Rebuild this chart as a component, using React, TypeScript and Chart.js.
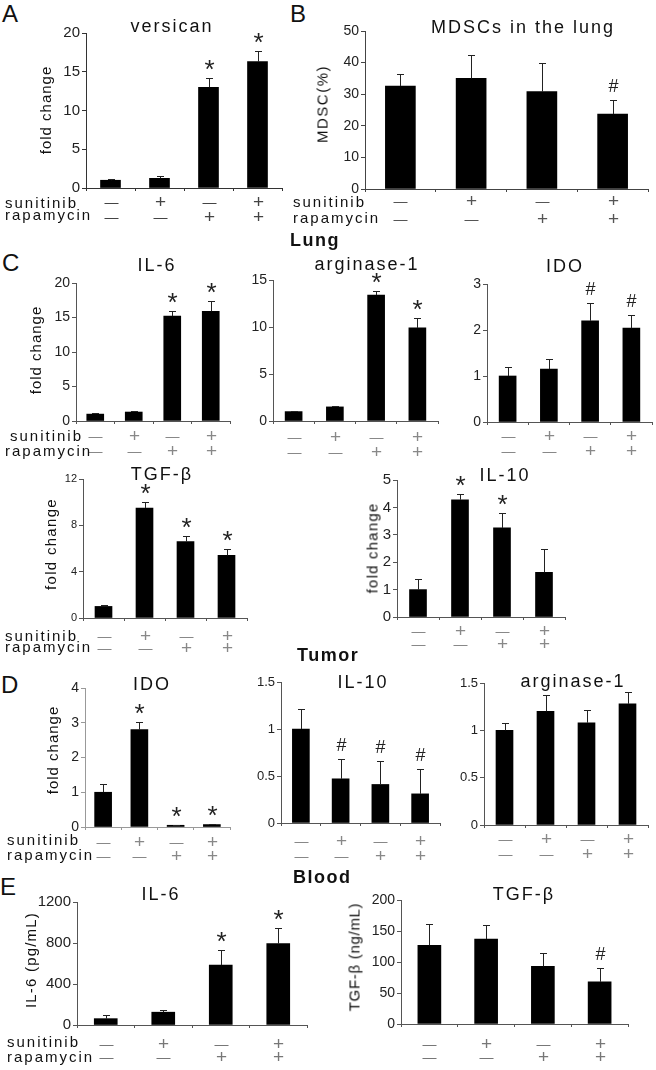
import React, { useEffect, useRef } from "react";
import { Chart, registerables } from "chart.js";

Chart.register(...registerables);

const FONT = "'Liberation Sans', Arial, Helvetica, sans-serif";

// ---------- data ----------
const GROUPS = ["control", "sunitinib", "rapamycin", "sunitinib + rapamycin"];
const SUNITINIB_SIGNS = ["—", "+", "—", "+"];
const RAPAMYCIN_SIGNS = ["—", "—", "+", "+"];

const VERSICAN = [1.0, 1.25, 13.0, 16.3];
const VERSICAN_ERR = [0.1, 0.3, 1.2, 1.4];
const VERSICAN_MARK = ["", "", "*", "*"];

const MDSC = [32.6, 35.0, 30.8, 23.7];
const MDSC_ERR = [3.7, 7.3, 9.2, 4.6];
const MDSC_MARK = ["", "", "", "#"];

const LUNG_IL6 = [1.0, 1.3, 15.2, 15.9];
const LUNG_IL6_ERR = [0.1, 0.1, 0.8, 1.5];
const LUNG_IL6_MARK = ["", "", "*", "*"];

const LUNG_ARG1 = [1.0, 1.5, 13.4, 9.9];
const LUNG_ARG1_ERR = [0.05, 0.1, 0.45, 1.1];
const LUNG_ARG1_MARK = ["", "", "*", "*"];

const LUNG_IDO = [1.0, 1.15, 2.2, 2.04];
const LUNG_IDO_ERR = [0.2, 0.21, 0.38, 0.28];
const LUNG_IDO_MARK = ["", "", "#", "#"];

const LUNG_TGFB = [1.0, 9.5, 6.6, 5.4];
const LUNG_TGFB_ERR = [0.12, 0.55, 0.45, 0.55];
const LUNG_TGFB_MARK = ["", "*", "*", "*"];

const LUNG_IL10 = [1.0, 4.28, 3.25, 1.63];
const LUNG_IL10_ERR = [0.38, 0.22, 0.55, 0.85];
const LUNG_IL10_MARK = ["", "*", "*", ""];

const TUMOR_IDO = [1.0, 2.8, 0.05, 0.07];
const TUMOR_IDO_ERR = [0.25, 0.21, 0.01, 0.01];
const TUMOR_IDO_MARK = ["", "*", "*", "*"];

const TUMOR_IL10 = [1.0, 0.47, 0.41, 0.31];
const TUMOR_IL10_ERR = [0.21, 0.21, 0.25, 0.26];
const TUMOR_IL10_MARK = ["", "#", "#", "#"];

const TUMOR_ARG1 = [1.0, 1.2, 1.08, 1.28];
const TUMOR_ARG1_ERR = [0.08, 0.17, 0.14, 0.12];
const TUMOR_ARG1_MARK = ["", "", "", ""];

const BLOOD_IL6 = [62, 125, 585, 795];
const BLOOD_IL6_ERR = [32, 25, 145, 155];
const BLOOD_IL6_MARK = ["", "", "*", "*"];

const BLOOD_TGFB = [127, 137, 93, 68];
const BLOOD_TGFB_ERR = [35, 22, 22, 23];
const BLOOD_TGFB_MARK = ["", "", "", "#"];

// ---------- layout ----------
const Y_W = 44;
const PAD_TOP = 14;
const PAD_RIGHT = 4;
const X_H = 44;
const CAP = 7;
const MARK_GAP = 15;

type Spec = {
  id: string;
  values: number[];
  errors: number[];
  marks: string[];
  yMax: number;
  yStep: number;
  plot: { left: number; right: number; top: number; bottom: number };
  bar: number;
  tickFont: number;
  rows: [number, number];
  axis: string;
  sign: string;
};

const PANELS: Spec[] = [
  { id: "A", values: VERSICAN, errors: VERSICAN_ERR, marks: VERSICAN_MARK, yMax: 20, yStep: 5,
    plot: { left: 86, right: 282, top: 33, bottom: 188 }, bar: 20, tickFont: 15, rows: [15, 30], axis: "#333", sign: "#444" },
  { id: "B", values: MDSC, errors: MDSC_ERR, marks: MDSC_MARK, yMax: 50, yStep: 10,
    plot: { left: 365, right: 648, top: 31, bottom: 189 }, bar: 30, tickFont: 14, rows: [13, 31], axis: "#444", sign: "#555" },
  { id: "C1", values: LUNG_IL6, errors: LUNG_IL6_ERR, marks: LUNG_IL6_MARK, yMax: 20, yStep: 5,
    plot: { left: 76, right: 230, top: 283, bottom: 421 }, bar: 17, tickFont: 14, rows: [16, 31], axis: "#555", sign: "#888" },
  { id: "C2", values: LUNG_ARG1, errors: LUNG_ARG1_ERR, marks: LUNG_ARG1_MARK, yMax: 15, yStep: 5,
    plot: { left: 273, right: 438, top: 280, bottom: 421 }, bar: 17, tickFont: 14, rows: [17, 32], axis: "#555", sign: "#888" },
  { id: "C3", values: LUNG_IDO, errors: LUNG_IDO_ERR, marks: LUNG_IDO_MARK, yMax: 3, yStep: 1,
    plot: { left: 487, right: 652, top: 284, bottom: 422 }, bar: 17, tickFont: 14, rows: [15, 30], axis: "#555", sign: "#888" },
  { id: "C4", values: LUNG_TGFB, errors: LUNG_TGFB_ERR, marks: LUNG_TGFB_MARK, yMax: 12, yStep: 4,
    plot: { left: 83, right: 247, top: 479, bottom: 618 }, bar: 17, tickFont: 11, rows: [19, 31], axis: "#555", sign: "#888" },
  { id: "C5", values: LUNG_IL10, errors: LUNG_IL10_ERR, marks: LUNG_IL10_MARK, yMax: 5, yStep: 1,
    plot: { left: 397, right: 565, top: 480, bottom: 617 }, bar: 17, tickFont: 15, rows: [15, 28], axis: "#555", sign: "#888" },
  { id: "D1", values: TUMOR_IDO, errors: TUMOR_IDO_ERR, marks: TUMOR_IDO_MARK, yMax: 4, yStep: 1,
    plot: { left: 85, right: 230, top: 688, bottom: 827 }, bar: 17, tickFont: 14, rows: [16, 30], axis: "#999", sign: "#888" },
  { id: "D2", values: TUMOR_IL10, errors: TUMOR_IL10_ERR, marks: TUMOR_IL10_MARK, yMax: 1.5, yStep: 0.5,
    plot: { left: 281, right: 440, top: 682, bottom: 823 }, bar: 17, tickFont: 13, rows: [19, 34], axis: "#555", sign: "#888" },
  { id: "D3", values: TUMOR_ARG1, errors: TUMOR_ARG1_ERR, marks: TUMOR_ARG1_MARK, yMax: 1.5, yStep: 0.5,
    plot: { left: 484, right: 648, top: 683, bottom: 825 }, bar: 17, tickFont: 13, rows: [15, 30], axis: "#555", sign: "#888" },
  { id: "E1", values: BLOOD_IL6, errors: BLOOD_IL6_ERR, marks: BLOOD_IL6_MARK, yMax: 1200, yStep: 400,
    plot: { left: 77, right: 307, top: 902, bottom: 1025 }, bar: 23, tickFont: 15, rows: [20, 33], axis: "#555", sign: "#777" },
  { id: "E2", values: BLOOD_TGFB, errors: BLOOD_TGFB_ERR, marks: BLOOD_TGFB_MARK, yMax: 200, yStep: 50,
    plot: { left: 401, right: 628, top: 900, bottom: 1024 }, bar: 23, tickFont: 14, rows: [21, 34], axis: "#555", sign: "#777" },
];

type TextSpec = { text: string; x: number; y: number; size: number; bold?: boolean; center?: boolean; ls?: number; rotate?: boolean; color?: string };

const TEXTS: TextSpec[] = [
  // panel letters
  { text: "A", x: 2, y: 22, size: 24 },
  { text: "B", x: 290, y: 22, size: 24 },
  { text: "C", x: 2, y: 271, size: 24 },
  { text: "D", x: 1, y: 693, size: 24 },
  { text: "E", x: 0, y: 895, size: 24 },
  // section headers
  { text: "Lung", x: 290, y: 246, size: 18, bold: true, ls: 1.5 },
  { text: "Tumor", x: 297, y: 661, size: 18, bold: true, ls: 1.5 },
  { text: "Blood", x: 293, y: 883, size: 18, bold: true, ls: 1.5 },
  // titles
  { text: "versican", x: 172, y: 32, size: 18, center: true, ls: 2 },
  { text: "MDSCs in the lung", x: 523, y: 33, size: 18, center: true, ls: 2 },
  { text: "IL-6", x: 157, y: 271, size: 18, center: true, ls: 2 },
  { text: "arginase-1", x: 367, y: 270, size: 18, center: true, ls: 2 },
  { text: "IDO", x: 565, y: 272, size: 18, center: true, ls: 2 },
  { text: "TGF-β", x: 162, y: 480, size: 18, center: true, ls: 2 },
  { text: "IL-10", x: 505, y: 481, size: 18, center: true, ls: 2 },
  { text: "IDO", x: 152, y: 690, size: 18, center: true, ls: 2 },
  { text: "IL-10", x: 363, y: 688, size: 18, center: true, ls: 2 },
  { text: "arginase-1", x: 573, y: 687, size: 18, center: true, ls: 2 },
  { text: "IL-6", x: 161, y: 900, size: 18, center: true, ls: 2 },
  { text: "TGF-β", x: 524, y: 900, size: 18, center: true, ls: 2 },
  // y-axis labels (center positions)
  { text: "fold change", x: 45, y: 110, size: 15, rotate: true, ls: 1 },
  { text: "MDSC(%)", x: 322, y: 104, size: 15, rotate: true, ls: 1.5 },
  { text: "fold change", x: 35, y: 350, size: 15, rotate: true, ls: 1 },
  { text: "fold change", x: 50, y: 544, size: 15, rotate: true, ls: 1.3 },
  { text: "fold change", x: 372, y: 548, size: 15, rotate: true, ls: 1.2 },
  { text: "fold change", x: 52, y: 750, size: 15, rotate: true, ls: 1 },
  { text: "IL-6 (pg/mL)", x: 30, y: 960, size: 15, rotate: true, ls: 1.2 },
  { text: "TGF-β (ng/mL)", x: 354, y: 957, size: 15, rotate: true, ls: 0.7 },
  // treatment row labels
  { text: "sunitinib", x: 5, y: 208, size: 15, ls: 2 },
  { text: "rapamycin", x: 5, y: 220, size: 15, ls: 2 },
  { text: "sunitinib", x: 293, y: 207, size: 15, ls: 2 },
  { text: "rapamycin", x: 293, y: 223, size: 15, ls: 2 },
  { text: "sunitinib", x: 10, y: 441, size: 15, ls: 2 },
  { text: "rapamycin", x: 5, y: 456, size: 15, ls: 2 },
  { text: "sunitinib", x: 5, y: 641, size: 15, ls: 2 },
  { text: "rapamycin", x: 5, y: 652, size: 15, ls: 2 },
  { text: "sunitinib", x: 7, y: 845, size: 15, ls: 2 },
  { text: "rapamycin", x: 7, y: 860, size: 15, ls: 2 },
  { text: "sunitinib", x: 7, y: 1047, size: 15, ls: 2 },
  { text: "rapamycin", x: 7, y: 1062, size: 15, ls: 2 },
];

function overlayPlugin(spec: Spec) {
  return {
    id: "overlay" + spec.id,
    afterDatasetsDraw(chart: any) {
      const { ctx, chartArea } = chart;
      const xs = chart.scales.x;
      const ys = chart.scales.y;
      ctx.save();
      spec.values.forEach((v, i) => {
        const cx = Math.round(xs.getPixelForValue(i)) + 0.5;
        const yv = ys.getPixelForValue(v);
        const yt = Math.round(ys.getPixelForValue(v + spec.errors[i])) + 0.5;
        ctx.strokeStyle = "#222";
        ctx.lineWidth = 1;
        ctx.beginPath();
        ctx.moveTo(cx, yv);
        ctx.lineTo(cx, yt);
        ctx.moveTo(cx - CAP / 2, yt);
        ctx.lineTo(cx + CAP / 2, yt);
        ctx.stroke();

        const m = spec.marks[i];
        if (m) {
          ctx.fillStyle = "#222";
          ctx.textAlign = "center";
          ctx.textBaseline = "alphabetic";
          const c = yt - MARK_GAP;
          if (m === "*") {
            ctx.font = `26px ${FONT}`;
            ctx.fillText(m, cx, c + 0.57 * 26);
          } else {
            ctx.font = `18px ${FONT}`;
            ctx.fillText(m, cx, c + 0.35 * 18);
          }
        }

        ctx.fillStyle = spec.sign;
        ctx.textAlign = "center";
        ctx.textBaseline = "middle";
        [SUNITINIB_SIGNS[i], RAPAMYCIN_SIGNS[i]].forEach((s, r) => {
          ctx.font = s === "+" ? `19px ${FONT}` : `14px ${FONT}`;
          ctx.fillText(s, cx, chartArea.bottom + spec.rows[r]);
        });
      });
      ctx.restore();
    },
  };
}

function BarPanel({ spec }: { spec: Spec }) {
  const ref = useRef<HTMLCanvasElement | null>(null);
  const width = spec.plot.right - spec.plot.left + Y_W + PAD_RIGHT;
  const height = spec.plot.bottom - spec.plot.top + PAD_TOP + X_H;

  useEffect(() => {
    if (!ref.current) return;
    const chart = new Chart(ref.current, {
      type: "bar",
      data: {
        labels: GROUPS,
        datasets: [
          {
            data: spec.values,
            backgroundColor: "#000",
            borderWidth: 0,
            barThickness: spec.bar,
          },
        ],
      },
      options: {
        animation: false,
        responsive: false,
        maintainAspectRatio: false,
        devicePixelRatio: 1,
        events: [],
        layout: { padding: { left: 0, top: PAD_TOP, right: PAD_RIGHT, bottom: 0 } },
        plugins: { legend: { display: false }, tooltip: { enabled: false }, title: { display: false } },
        scales: {
          x: {
            type: "category",
            offset: true,
            grid: { offset: true, drawOnChartArea: false, drawTicks: true, tickLength: 3, color: spec.axis },
            border: { color: spec.axis, width: 1 },
            ticks: { display: false },
            afterFit: (s: any) => {
              s.height = X_H;
            },
          },
          y: {
            min: 0,
            max: spec.yMax,
            ticks: {
              stepSize: spec.yStep,
              padding: 2,
              color: "#222",
              font: { size: spec.tickFont, family: FONT },
              callback: (v: any) => String(Math.round(Number(v) * 100) / 100),
            },
            grid: { drawOnChartArea: false, drawTicks: true, tickLength: 4, color: spec.axis },
            border: { color: spec.axis, width: 1 },
            afterFit: (s: any) => {
              s.width = Y_W;
            },
          },
        },
      } as any,
      plugins: [overlayPlugin(spec)],
    });
    return () => chart.destroy();
  }, [spec]);

  return (
    <canvas
      ref={ref}
      width={width}
      height={height}
      style={{
        position: "absolute",
        left: spec.plot.left - Y_W,
        top: spec.plot.top - PAD_TOP,
        width,
        height,
      }}
    />
  );
}

function Label({ t }: { t: TextSpec }) {
  const base: React.CSSProperties = {
    position: "absolute",
    fontFamily: FONT,
    fontSize: t.size,
    fontWeight: t.bold ? 700 : 400,
    lineHeight: 1,
    whiteSpace: "nowrap",
    letterSpacing: t.ls ? `${t.ls}px` : undefined,
    color: t.color || "#111",
  };
  if (t.rotate) {
    return (
      <div style={{ ...base, left: t.x, top: t.y, transform: "translate(-50%, -50%) rotate(-90deg)" }}>{t.text}</div>
    );
  }
  return (
    <div
      style={{
        ...base,
        left: t.x,
        top: t.y - 0.8465 * t.size,
        transform: t.center ? "translateX(-50%)" : undefined,
      }}
    >
      {t.text}
    </div>
  );
}

export default function App() {
  return (
    <div style={{ position: "absolute", left: 0, top: 0, width: 656, height: 1070, background: "#fff", overflow: "hidden" }}>
      {PANELS.map((p) => (
        <BarPanel key={p.id} spec={p} />
      ))}
      {TEXTS.map((t, i) => (
        <Label key={i} t={t} />
      ))}
    </div>
  );
}
